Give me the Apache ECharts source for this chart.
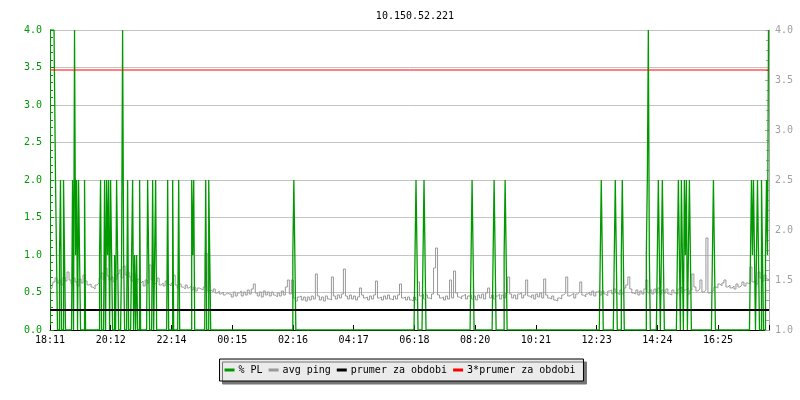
<!DOCTYPE html>
<html>
<head>
<meta charset="utf-8">
<script src="https://cdn.jsdelivr.net/npm/echarts@6/dist/echarts.min.js"></script>
<style>
  html, body { margin: 0; padding: 0; background: #fff; }
  #chart { width: 800px; height: 400px; }
</style>
</head>
<body>
<div id="chart"></div>
<script>
// 24 h od 18:11, osa x v minutach
const tickLabels = ['18:11', '20:12', '22:14', '00:15', '02:16', '04:17', '06:18', '08:20', '10:21', '12:23', '14:24', '16:25'];

// avg ping, vzorek kazde 4 minuty (prava osa)
const pingStep = 4;
const pingValues = [
  1.40, 1.42, 1.48, 1.52, 1.47, 1.50, 1.45, 1.53, 1.49, 1.58,
  1.50, 1.46, 1.52, 1.48, 1.44, 1.51, 1.47, 1.55, 1.49, 1.45,
  1.46, 1.43, 1.41, 1.45, 1.47, 1.52, 1.57, 1.50, 1.62, 1.54,
  1.50, 1.53, 1.48, 1.51, 1.56, 1.60, 1.52, 1.64, 1.55, 1.58,
  1.53, 1.49, 1.57, 1.46, 1.51, 1.47, 1.49, 1.44, 1.50, 1.47,
  1.65, 1.50, 1.46, 1.48, 1.52, 1.45, 1.47, 1.44, 1.49, 1.46,
  1.44, 1.47, 1.55, 1.45, 1.42, 1.46, 1.43, 1.41, 1.45, 1.42,
  1.44, 1.40, 1.43, 1.39, 1.42, 1.41, 1.40, 1.43, 1.77, 1.39,
  1.40, 1.38, 1.41, 1.37, 1.39, 1.36, 1.38, 1.35, 1.37, 1.36,
  1.36, 1.33, 1.38, 1.34, 1.37, 1.39, 1.34, 1.38, 1.35, 1.40,
  1.36, 1.41, 1.46, 1.37, 1.34, 1.38, 1.33, 1.39, 1.35, 1.38,
  1.34, 1.38, 1.35, 1.33, 1.37, 1.34, 1.39, 1.35, 1.43, 1.50,
  1.36, 1.50, 1.32, 1.29, 1.33, 1.34, 1.30, 1.33, 1.29, 1.33,
  1.30, 1.34, 1.31, 1.56, 1.34, 1.30, 1.33, 1.29, 1.34, 1.31,
  1.30, 1.53, 1.34, 1.31, 1.35, 1.32, 1.36, 1.61, 1.34, 1.31,
  1.35, 1.31, 1.34, 1.30, 1.33, 1.42, 1.35, 1.32, 1.33, 1.30,
  1.34, 1.31, 1.35, 1.49, 1.32, 1.33, 1.30, 1.34, 1.31, 1.35,
  1.31, 1.30, 1.34, 1.31, 1.35, 1.46, 1.32, 1.33, 1.30, 1.33,
  1.30, 1.29, 1.33, 1.30, 1.48, 1.34, 1.36, 1.31, 1.35, 1.32,
  1.31, 1.36, 1.62, 1.82, 1.35, 1.32, 1.33, 1.30, 1.34, 1.31,
  1.50, 1.32, 1.59, 1.37, 1.33, 1.31, 1.34, 1.36, 1.31, 1.34,
  1.35, 1.31, 1.34, 1.30, 1.35, 1.32, 1.36, 1.31, 1.37, 1.42,
  1.32, 1.35, 1.31, 1.34, 1.36, 1.31, 1.35, 1.32, 1.37, 1.53,
  1.36, 1.32, 1.35, 1.31, 1.36, 1.37, 1.32, 1.35, 1.50, 1.34,
  1.32, 1.35, 1.31, 1.36, 1.33, 1.37, 1.32, 1.51, 1.35, 1.32,
  1.31, 1.34, 1.30, 1.29, 1.32, 1.31, 1.35, 1.37, 1.53, 1.34,
  1.35, 1.37, 1.32, 1.36, 1.38, 1.48, 1.35, 1.33, 1.36, 1.38,
  1.35, 1.39, 1.34, 1.38, 1.40, 1.35, 1.39, 1.36, 1.34, 1.39,
  1.40, 1.36, 1.41, 1.37, 1.35, 1.40, 1.36, 1.42, 1.45, 1.53,
  1.41, 1.37, 1.36, 1.40, 1.35, 1.39, 1.36, 1.41, 1.50, 1.37,
  1.40, 1.36, 1.41, 1.37, 1.42, 1.36, 1.40, 1.37, 1.41, 1.36,
  1.35, 1.40, 1.37, 1.36, 1.41, 1.43, 1.37, 1.40, 1.42, 1.36,
  1.40, 1.56, 1.43, 1.39, 1.41, 1.50, 1.38, 1.40, 1.92, 1.37,
  1.38, 1.40, 1.43, 1.42, 1.46, 1.44, 1.47, 1.50, 1.43, 1.45,
  1.42, 1.44, 1.41, 1.46, 1.43, 1.45, 1.48, 1.44, 1.47, 1.46,
  1.63, 1.48, 1.50, 1.46, 1.58, 1.52, 1.49, 1.55, 1.51, 1.50
];

// % PL, vzorek kazde 2 minuty, jen nenulove hodnoty (leva osa)
const plStep = 2;
const plMinutes = [
  0, 2, 4, 6, 8, 10, 12, 14, 20, 22, 28, 30,
  46, 50, 52, 54, 58, 60, 70, 100, 102,
  110, 114, 116, 118, 122, 124, 130, 134, 136,
  144, 146, 148, 156, 164, 166, 170, 174, 180,
  196, 198, 206, 210, 212, 236, 246, 258,
  284, 286, 288, 312, 318, 320,
  486, 488, 490, 730, 732, 734, 746, 748, 750,
  842, 844, 846, 886, 888, 890, 908, 910, 912,
  1100, 1102, 1104, 1128, 1130, 1132, 1142, 1144, 1146,
  1192, 1194, 1196, 1198, 1214, 1216, 1218, 1222, 1224, 1226,
  1254, 1256, 1258, 1262, 1264, 1268, 1270, 1272, 1276, 1278, 1280,
  1324, 1326, 1328, 1400, 1402, 1404, 1406, 1408,
  1412, 1414, 1416, 1422, 1424, 1430, 1432, 1434, 1436
];
const plValues = [
  4, 4, 4, 4, 4, 4, 2, 1, 1, 2, 2, 1,
  2, 4, 1, 2, 2, 1, 2, 1, 2,
  2, 2, 1, 2, 2, 1, 1, 2, 1,
  1, 4, 1, 2, 1, 2, 1, 1, 2,
  2, 1, 2, 1, 2, 2, 2, 2,
  2, 1, 2, 2, 2, 1,
  1, 2, 1, 1, 2, 1, 1, 2, 1,
  1, 2, 1, 1, 2, 1, 1, 2, 1,
  1, 2, 1, 1, 2, 1, 1, 2, 1,
  1, 2, 4, 1, 1, 2, 1, 1, 2, 1,
  1, 2, 1, 2, 1, 2, 1, 2, 1, 2, 1,
  1, 2, 1, 1, 2, 1, 2, 1,
  1, 2, 1, 2, 1, 1, 2, 1, 4
];

const prumer = 1.20;
const prumer3 = 3.60;
const endMinute = 1436;

const green = '#009900';
const mono = 'DejaVu Sans Mono';

const pingData = pingValues.map((v, i) => [i * pingStep, v]);
const plMap = {};
plMinutes.forEach((m, i) => { plMap[m] = plValues[i]; });
const plData = [];
for (let m = 0; m <= endMinute; m += plStep) {
  plData.push([m, plMap[m] || 0]);
}

const chart = echarts.init(document.getElementById('chart'), null, { renderer: 'canvas' });
chart.setOption({
  animation: false,
  backgroundColor: '#ffffff',
  textStyle: { fontFamily: mono },
  title: {
    text: '10.150.52.221',
    left: 410,
    top: 6,
    textAlign: 'center',
    textStyle: { fontFamily: mono, fontSize: 10, fontWeight: 'normal', color: '#000' }
  },
  grid: { left: 50, right: 31, top: 30, bottom: 70 },
  legend: {
    data: ['% PL', 'avg ping', 'prumer za obdobi', '3*prumer za obdobi'],
    left: 'center',
    top: 359,
    icon: 'rect',
    itemWidth: 10,
    itemHeight: 3,
    itemGap: 6,
    padding: [6, 8, 6, 5],
    backgroundColor: '#ebebeb',
    borderColor: '#000',
    borderWidth: 1,
    borderRadius: 0,
    shadowColor: '#777777',
    shadowBlur: 0,
    shadowOffsetX: 3,
    shadowOffsetY: 3,
    textStyle: { fontFamily: mono, fontSize: 10, color: '#000', padding: [0, 0, 0, -1] }
  },
  xAxis: {
    type: 'value',
    min: 0,
    max: endMinute,
    interval: 121.3,
    axisLine: { lineStyle: { color: '#000', width: 1 } },
    axisTick: { inside: true, length: 5, lineStyle: { color: '#000' } },
    axisLabel: {
      margin: 5,
      color: '#000',
      fontFamily: mono,
      fontSize: 10,
      formatter: (v, idx) => tickLabels[idx] || ''
    },
    splitLine: { show: false }
  },
  yAxis: [
    {
      type: 'value',
      min: 0,
      max: 4,
      interval: 0.5,
      axisLine: { show: true, lineStyle: { color: green } },
      axisTick: { show: true, inside: true, length: 4, lineStyle: { color: green } },
      minorTick: { show: true, splitNumber: 5, length: 3, lineStyle: { color: green } },
      axisLabel: { margin: 8, color: green, fontFamily: mono, fontSize: 10, formatter: v => v.toFixed(1) },
      splitLine: { show: true, lineStyle: { color: '#c4c4c4', width: 1 } }
    },
    {
      type: 'value',
      min: 1,
      max: 4,
      interval: 0.5,
      position: 'right',
      axisLine: { show: true, lineStyle: { color: '#a8a8a8' } },
      axisTick: { show: true, inside: true, length: 4, lineStyle: { color: '#a8a8a8' } },
      minorTick: { show: true, splitNumber: 5, length: 3, lineStyle: { color: '#a8a8a8' } },
      axisLabel: { margin: 6, color: '#a0a0a0', fontFamily: mono, fontSize: 10, formatter: v => v.toFixed(1) },
      splitLine: { show: false }
    }
  ],
  series: [
    {
      name: 'avg ping',
      type: 'line',
      yAxisIndex: 1,
      data: pingData,
      step: 'middle',
      showSymbol: false,
      color: '#999999',
      lineStyle: { color: '#999999', width: 1 },
      z: 2
    },
    {
      name: '% PL',
      type: 'line',
      yAxisIndex: 0,
      data: plData,
      step: 'middle',
      showSymbol: false,
      color: green,
      lineStyle: { color: green, width: 1.3 },
      z: 3
    },
    {
      name: 'prumer za obdobi',
      type: 'line',
      yAxisIndex: 1,
      data: [[0, prumer], [endMinute, prumer]],
      showSymbol: false,
      color: '#000',
      lineStyle: { color: '#000', width: 2 },
      z: 4
    },
    {
      name: '3*prumer za obdobi',
      type: 'line',
      yAxisIndex: 1,
      data: [[0, prumer3], [endMinute, prumer3]],
      showSymbol: false,
      color: '#ff0000',
      lineStyle: { color: '#ff0000', width: 1 },
      z: 4
    }
  ]
});
</script>
</body>
</html>
